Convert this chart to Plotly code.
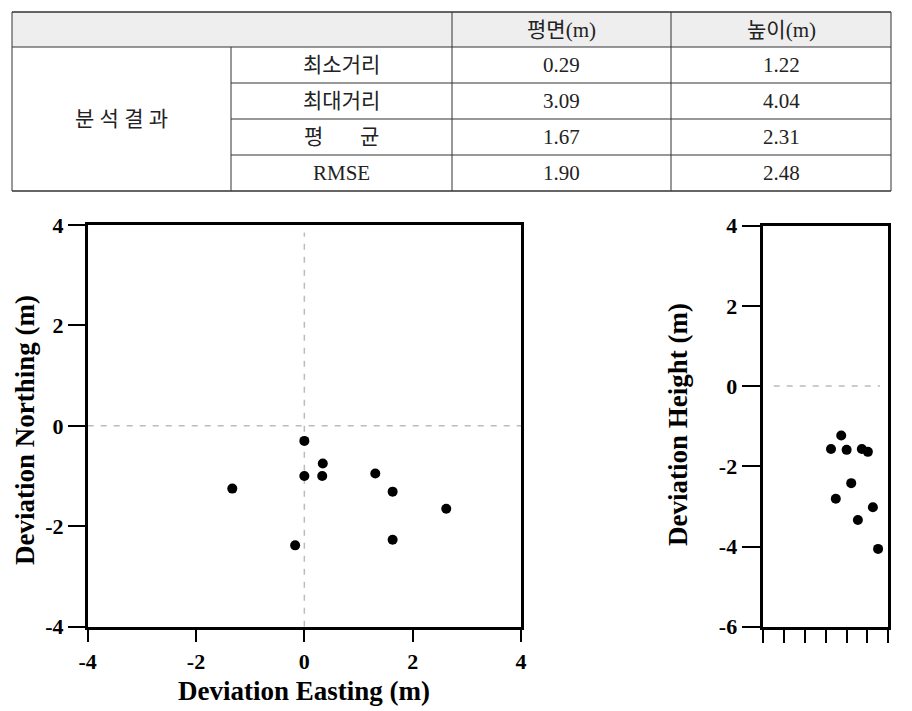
import plotly.graph_objects as go

# ---------------- data ----------------
table_header = ["평면(m)", "높이(m)"]
row_group = "분 석 결 과"
row_labels = ["최소거리", "최대거리", "평       균", "RMSE"]
plane_vals = ["0.29", "3.09", "1.67", "1.90"]
height_vals = ["1.22", "4.04", "2.31", "2.48"]

easting = [0.0, 0.34, 0.0, 0.33, 1.31, 1.63, 2.62, 1.63, -0.17, -1.33]
northing = [-0.30, -0.75, -1.00, -1.00, -0.95, -1.31, -1.65, -2.27, -2.38, -1.25]

height_pos = [3.74, 3.25, 4.0, 4.73, 5.02, 4.22, 3.48, 5.26, 4.54, 5.51]
height_dev = [-1.23, -1.57, -1.59, -1.57, -1.64, -2.42, -2.81, -3.02, -3.34, -4.06]

xy_ticks = [-4, -2, 0, 2, 4]
xy_labels = ["-4", "-2", "0", "2", "4"]
h_ticks = [-6, -4, -2, 0, 2, 4]
h_labels = ["-6", "-4", "-2", "0", "2", "4"]

# ---------------- layout helpers ----------------
# the page body has an 8px margin, so the figure is slightly smaller and
# all target pixel positions are shifted by that offset
OFF = 8
W, H = 912 - OFF, 711 - OFF


def px(x):
    return (x - OFF) / W


def py(y):
    return 1 - (y - OFF) / H


SERIF = "Liberation Serif, Times New Roman, serif"
TABLE_FONT = "Liberation Serif, Noto Sans CJK KR, serif"

fig = go.Figure()

fig.add_trace(go.Scatter(
    x=easting, y=northing, mode="markers",
    marker=dict(color="black", size=10),
    xaxis="x", yaxis="y", showlegend=False, hoverinfo="x+y"))

fig.add_trace(go.Scatter(
    x=height_pos, y=height_dev, mode="markers",
    marker=dict(color="black", size=10),
    xaxis="x2", yaxis="y2", showlegend=False, hoverinfo="y"))

axis_common = dict(
    showgrid=False, zeroline=False, showline=True, linecolor="black",
    linewidth=2.5, mirror=True, ticks="outside", tickcolor="black",
    tickwidth=2, automargin=False,
    tickfont=dict(family=SERIF, size=22, color="black", weight="bold"),
)

fig.update_layout(
    width=W, height=H, autosize=False,
    margin=dict(l=0, r=0, t=0, b=0, pad=0),
    paper_bgcolor="white", plot_bgcolor="white",
    xaxis=dict(axis_common, domain=[px(87.7), px(521)], range=[-4, 4],
               tickvals=xy_ticks, ticktext=xy_labels, ticklen=13, anchor="y"),
    yaxis=dict(axis_common, domain=[py(626.7), py(225)], range=[-4, 4],
               tickvals=xy_ticks, ticktext=xy_labels, ticklen=17, anchor="x"),
    xaxis2=dict(axis_common, domain=[px(763.3), px(888.3)], range=[0, 6],
                tickvals=[0, 1, 2, 3, 4, 5, 6], showticklabels=False,
                ticklen=14, anchor="y2"),
    yaxis2=dict(axis_common, domain=[py(626.7), py(225.7)], range=[-6, 4],
                tickvals=h_ticks, ticktext=h_labels, ticklen=19, anchor="x2"),
)

# dashed reference lines
dash_line = dict(color="#bbbbbb", width=1.5, dash="6px,7px")
fig.add_shape(type="line", xref="x", yref="y", x0=-4, x1=4, y0=0, y1=0, line=dash_line, layer="below")
fig.add_shape(type="line", xref="x", yref="y", x0=0, x1=0, y0=-4, y1=3.85, line=dash_line, layer="below")
fig.add_shape(type="line", xref="x2", yref="y2", x0=0.5, x1=5.6, y0=0, y1=0, line=dash_line, layer="below")

# axis titles
title_font = dict(family=SERIF, size=27, color="black", weight="bold")
fig.add_annotation(text="Deviation Easting (m)", xref="paper", yref="paper",
                   x=px(304), y=py(691), showarrow=False, font=title_font,
                   xanchor="center", yanchor="middle")
fig.add_annotation(text="Deviation Northing (m)", xref="paper", yref="paper",
                   x=px(25), y=py(430), showarrow=False, font=title_font,
                   textangle=-90, xanchor="center", yanchor="middle")
fig.add_annotation(text="Deviation Height (m)", xref="paper", yref="paper",
                   x=px(678), y=py(425), showarrow=False, font=title_font,
                   textangle=-90, xanchor="center", yanchor="middle")

# ---------------- table ----------------
col_x = [12, 231, 452, 671, 891]
row_y = [12, 47, 83, 119, 155, 191]
line_col = "#333333"

# header background
fig.add_shape(type="rect", xref="paper", yref="paper",
              x0=px(col_x[0]), x1=px(col_x[4]), y0=py(row_y[1]), y1=py(row_y[0]),
              fillcolor="#eeeeee", line=dict(width=0), layer="below")


def hline(y, x0, x1, w=1):
    fig.add_shape(type="line", xref="paper", yref="paper",
                  x0=px(x0), x1=px(x1), y0=py(y), y1=py(y),
                  line=dict(color=line_col, width=w))


def vline(x, y0, y1, w=1):
    fig.add_shape(type="line", xref="paper", yref="paper",
                  x0=px(x), x1=px(x), y0=py(y0), y1=py(y1),
                  line=dict(color=line_col, width=w))


hline(row_y[0], col_x[0], col_x[4], 1.5)
hline(row_y[1], col_x[0], col_x[4], 1.2)
for y in row_y[2:5]:
    hline(y, col_x[1], col_x[4], 1)
hline(row_y[5], col_x[0], col_x[4], 1.5)
vline(col_x[0], row_y[0], row_y[5])
vline(col_x[4], row_y[0], row_y[5])
vline(col_x[1], row_y[1], row_y[5])
vline(col_x[2], row_y[0], row_y[5])
vline(col_x[3], row_y[0], row_y[5])

tfont = dict(family=TABLE_FONT, size=21, color="#222222")


def cell_text(text, cx0, cx1, ry0, ry1):
    fig.add_annotation(text=text, xref="paper", yref="paper",
                       x=px((cx0 + cx1) / 2), y=py((ry0 + ry1) / 2),
                       showarrow=False, font=tfont, xanchor="center", yanchor="middle")


cell_text(table_header[0], col_x[2], col_x[3], row_y[0], row_y[1])
cell_text(table_header[1], col_x[3], col_x[4], row_y[0], row_y[1])
cell_text(row_group, col_x[0], col_x[1], row_y[1], row_y[5])
for i in range(4):
    cell_text(row_labels[i], col_x[1], col_x[2], row_y[i + 1], row_y[i + 2])
    cell_text(plane_vals[i], col_x[2], col_x[3], row_y[i + 1], row_y[i + 2])
    cell_text(height_vals[i], col_x[3], col_x[4], row_y[i + 1], row_y[i + 2])

fig.write_html("out.html")
